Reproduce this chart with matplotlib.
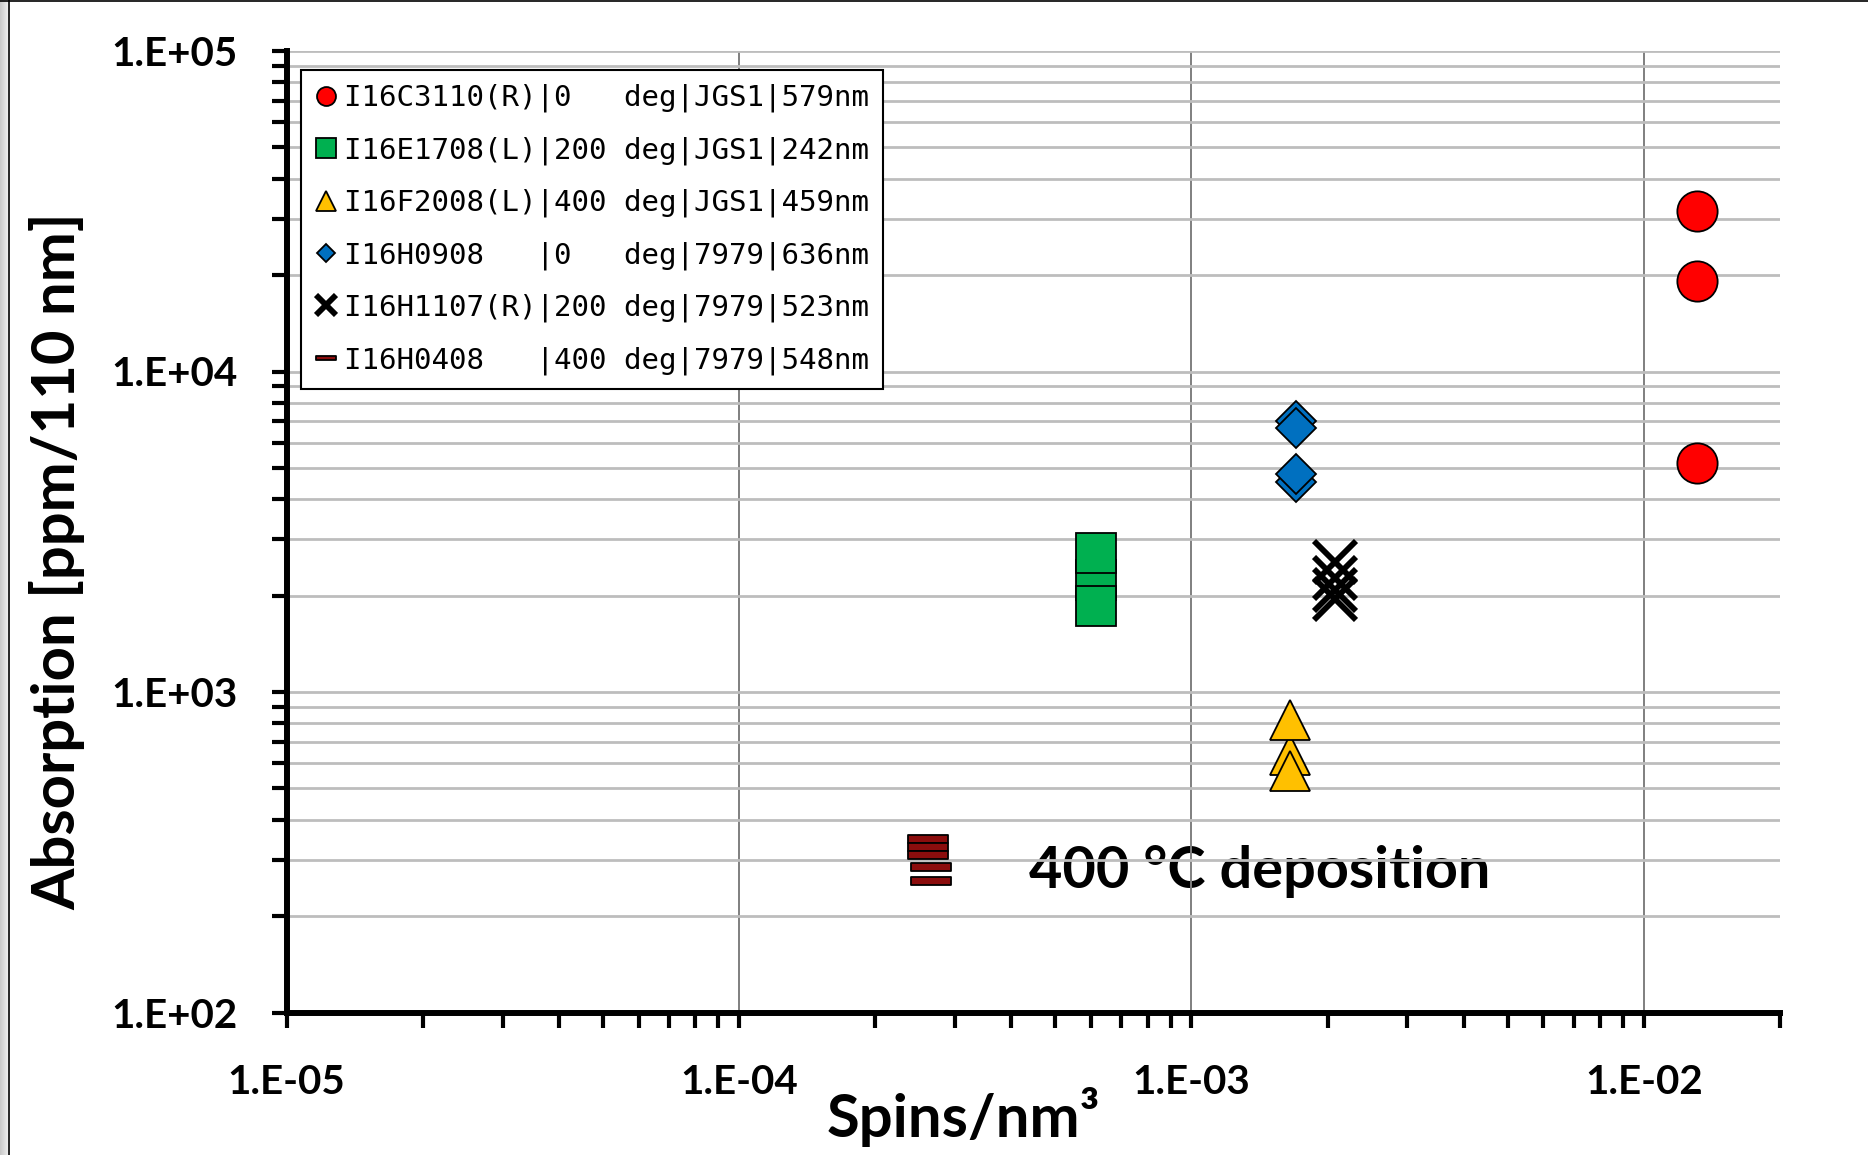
import numpy as np
import matplotlib
matplotlib.use("Agg")
import matplotlib.pyplot as plt
from matplotlib.path import Path
from matplotlib.lines import Line2D
from matplotlib.ticker import LogLocator, FuncFormatter, NullFormatter

# ---- data: spin density vs. absorption per sample ----
red_x = [0.0131, 0.0131, 0.0131]
red_y = [31700, 19200, 5170]

green_x = [6.14e-4, 6.14e-4, 6.14e-4]
green_y = [2230, 2720, 1860]

yellow_x = [1.65e-3, 1.65e-3, 1.65e-3]
yellow_y = [636, 818, 566]

blue_x = [1.70e-3, 1.70e-3, 1.70e-3, 1.70e-3]
blue_y = [7030, 6660, 4520, 4800]

cross_x = [2.075e-3, 2.075e-3, 2.075e-3, 2.075e-3]
cross_y = [2540, 2265, 2080, 1950]

dash_x = [2.62e-4, 2.62e-4, 2.62e-4, 2.66e-4, 2.66e-4]
dash_y = [348, 328, 310, 284, 258]

labels = [
    "I16C3110(R)|0   deg|JGS1|579nm",
    "I16E1708(L)|200 deg|JGS1|242nm",
    "I16F2008(L)|400 deg|JGS1|459nm",
    "I16H0908   |0   deg|7979|636nm",
    "I16H1107(R)|200 deg|7979|523nm",
    "I16H0408   |400 deg|7979|548nm",
]

x_ticks = [1e-5, 1e-4, 1e-3, 1e-2]
y_ticks = [1e2, 1e3, 1e4, 1e5]

plt.rcParams["font.family"] = ["Lato", "DejaVu Sans"]
plt.rcParams["font.weight"] = "bold"

W, H = 1868, 1155
fig = plt.figure(figsize=(W / 100, H / 100), dpi=100)

# page frame: grey strip on the left plus thin black borders
strip = fig.add_axes([0, 0, 8 / W, 1])
strip.imshow(np.linspace(0.78, 0.93, 50)[None, :], cmap="gray", vmin=0, vmax=1,
             aspect="auto", extent=[0, 1, 0, 1])
strip.set_axis_off()
fig.add_artist(Line2D([8.5 / W, 8.5 / W], [0, 1], color="black", lw=1.2))
fig.add_artist(Line2D([0, 1], [1 - 0.6 / H, 1 - 0.6 / H], color="black", lw=1.2))

x0, x1, y0, y1 = 286.7, 1780, 51, 1012.5
ax = fig.add_axes([x0 / W, 1 - y1 / H, (x1 - x0) / W, (y1 - y0) / H])
ax.set_xscale("log")
ax.set_yscale("log")
ax.set_xlim(1e-5, 2e-2)
ax.set_ylim(1e2, 1e5)

# grid
ax.set_axisbelow(True)
ax.xaxis.set_major_locator(LogLocator(base=10, numticks=10))
ax.xaxis.set_minor_locator(LogLocator(base=10, subs=np.arange(2, 10), numticks=20))
ax.yaxis.set_major_locator(LogLocator(base=10, numticks=10))
ax.yaxis.set_minor_locator(LogLocator(base=10, subs=np.arange(2, 10), numticks=20))
ax.grid(which="major", axis="x", color="#7f7f7f", lw=1.4)
ax.grid(which="both", axis="y", color="#bdbdbd", lw=2.0)

fmt = FuncFormatter(lambda v, p: "1.E{:+03d}".format(int(round(np.log10(v)))))
ax.xaxis.set_major_formatter(fmt)
ax.yaxis.set_major_formatter(fmt)
ax.xaxis.set_minor_formatter(NullFormatter())
ax.yaxis.set_minor_formatter(NullFormatter())

for s in ("top", "right"):
    ax.spines[s].set_visible(False)
for s in ("left", "bottom"):
    ax.spines[s].set_linewidth(4.3)
    ax.spines[s].set_color("black")

ax.tick_params(which="both", direction="out", length=11, width=3, color="black")
ax.tick_params(axis="y", which="major", labelsize=29, pad=24)
ax.tick_params(axis="x", which="major", labelsize=29, pad=26)

# series
dash_marker = Path([(-1, -0.2), (1, -0.2), (1, 0.2), (-1, 0.2), (-1, -0.2)],
                   [Path.MOVETO, Path.LINETO, Path.LINETO, Path.LINETO, Path.CLOSEPOLY])
ew = 1.3
ax.plot(red_x, red_y, ls="none", marker="o", ms=29, mfc="#ff0000", mec="black", mew=ew,
        label=labels[0], zorder=3)
ax.plot(green_x, green_y, ls="none", marker="s", ms=29.5, mfc="#00b050", mec="black", mew=ew,
        label=labels[1], zorder=3)
ax.plot(yellow_x, yellow_y, ls="none", marker="^", ms=29.5, mfc="#ffc000", mec="black", mew=ew,
        label=labels[2], zorder=3)
ax.plot(blue_x, blue_y, ls="none", marker="D", ms=20, mfc="#0070c0", mec="black", mew=ew,
        label=labels[3], zorder=3)
ax.plot(cross_x, cross_y, ls="none", marker="x", ms=30, mec="black", mew=4.2,
        label=labels[4], zorder=3)
ax.plot(dash_x, dash_y, ls="none", marker=dash_marker, ms=29.5, mfc="#8b0d0d", mec="black",
        mew=ew, label=labels[5], zorder=3)

leg = ax.legend(loc="upper left", bbox_to_anchor=((300.7 - x0) / (x1 - x0), (y1 - 70) / (y1 - y0)),
                borderaxespad=0, frameon=True, fancybox=False, framealpha=1,
                edgecolor="black", markerscale=0.47, numpoints=1,
                prop={"family": "DejaVu Sans Mono", "size": 21, "weight": "normal"},
                borderpad=0.48, handlelength=0.8, handletextpad=0.19, labelspacing=0.82)
leg.get_frame().set_linewidth(1.5)

ax.text(4.38e-4, 244, "400 °C deposition", fontsize=41.5, fontweight="bold",
        ha="left", va="baseline", zorder=0.3)

fig.text(963 / W, 1 - 1137 / H, "Spins/nm³", fontsize=43, fontweight="bold",
         ha="center", va="baseline")
fig.text(57 / W, 1 - 561 / H, "Absorption [ppm/110 nm]", fontsize=43, fontweight="bold",
         rotation=90, ha="center", va="center")

fig.savefig("out.png", dpi=100)
